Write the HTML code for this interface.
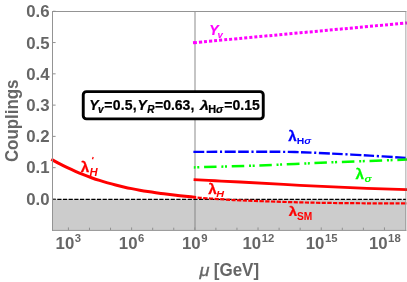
<!DOCTYPE html>
<html><head><meta charset="utf-8"><title>Couplings</title>
<style>
html,body{margin:0;padding:0;background:#fff;}
body{width:407px;height:282px;overflow:hidden;font-family:"Liberation Sans",sans-serif;}
svg{display:block;font-family:"Liberation Sans",sans-serif;}
</style></head><body>
<svg width="407" height="282" viewBox="0 0 407 282" style="will-change:transform;transform:translateZ(0)">
<rect x="0" y="0" width="407" height="282" fill="#ffffff"/>
<rect x="52.5" y="199.4" width="353.5" height="31.1" fill="#cccccc"/>
<line x1="195" y1="11.5" x2="195" y2="230.5" stroke="#808080" stroke-opacity="0.5" stroke-width="1.8"/>
<line x1="52.5" y1="199.4" x2="406" y2="199.4" stroke="#000" stroke-width="1.2" stroke-dasharray="4.2 1.47" stroke-dashoffset="0.9"/>
<g fill="none" stroke-linecap="butt" stroke-linejoin="round">
<path d="M51.30 159.24 C52.64 159.98 56.66 162.26 59.34 163.68 C62.02 165.09 64.70 166.43 67.38 167.72 C70.06 169.01 72.74 170.23 75.42 171.39 C78.10 172.56 80.78 173.67 83.46 174.72 C86.14 175.78 88.81 176.77 91.49 177.72 C94.17 178.67 96.85 179.57 99.53 180.42 C102.21 181.28 104.89 182.08 107.57 182.84 C110.25 183.60 112.93 184.32 115.61 185.00 C118.29 185.68 120.97 186.32 123.65 186.92 C126.33 187.53 129.01 188.10 131.69 188.63 C134.37 189.17 137.05 189.67 139.73 190.15 C142.41 190.63 145.09 191.08 147.77 191.50 C150.45 191.93 153.13 192.33 155.81 192.71 C158.49 193.09 161.16 193.45 163.84 193.79 C166.52 194.14 169.20 194.46 171.88 194.78 C174.56 195.09 177.24 195.39 179.92 195.68 C182.60 195.98 185.28 196.26 187.96 196.54 C190.64 196.82 194.66 197.23 196.00 197.37" stroke="#ff0000" stroke-width="3"/>
<path d="M193.60 179.70 C197.17 179.88 207.27 180.37 215.00 180.75 C222.73 181.13 225.83 181.24 240.00 182.00 C254.17 182.76 278.83 184.25 300.00 185.30 C321.17 186.35 349.17 187.57 367.00 188.30 C384.83 189.03 400.33 189.47 407.00 189.70" stroke="#ff0000" stroke-width="2.8"/>
<path d="M194.00 197.30 C195.00 197.38 197.33 197.60 200.00 197.80 C202.67 198.00 206.67 198.28 210.00 198.50 C213.33 198.72 216.67 198.93 220.00 199.15 C223.33 199.38 226.67 199.64 230.00 199.85 C233.33 200.06 235.83 200.22 240.00 200.40 C244.17 200.58 246.67 200.67 255.00 200.95 C263.33 201.23 279.17 201.79 290.00 202.10 C300.83 202.41 307.17 202.60 320.00 202.80 C332.83 203.00 352.50 203.20 367.00 203.30 C381.50 203.40 400.33 203.38 407.00 203.40" stroke="#ff0000" stroke-width="2.2" stroke-dasharray="4.25 1.4" stroke-dashoffset="1.99"/>
<path d="M193 42.75 L195 42.57" stroke="#ff00ff" stroke-width="3"/>
<path d="M194.18 42.64 C229.65 39.35 371.53 26.19 407.00 22.90" stroke="#ff00ff" stroke-width="3" stroke-dasharray="3 2.04"/>
<path d="M193.40 151.90 C202.83 151.87 233.07 151.67 250.00 151.70 C266.93 151.72 281.67 151.75 295.00 152.05 C308.33 152.35 317.50 152.90 330.00 153.50 C342.50 154.10 357.17 154.90 370.00 155.65 C382.83 156.40 400.83 157.61 407.00 158.00" stroke="#0000ff" stroke-width="2.4" stroke-dasharray="11 2.4 10.6 2.7 2.1 2.6" stroke-dashoffset="0.1"/>
<path d="M193.80 167.40 C203.17 167.13 233.13 166.37 250.00 165.80 C266.87 165.23 280.00 164.63 295.00 164.00 C310.00 163.37 321.33 162.73 340.00 162.00 C358.67 161.27 395.83 160.00 407.00 159.60" stroke="#00ff00" stroke-width="2.5" stroke-dasharray="2 1.6 2 4.7 12.5 4.8"/>
</g>
<g stroke="#949494" stroke-width="1" fill="none">
<path d="M405.8 11 L405.8 231" stroke="#666666" stroke-opacity="0.42" stroke-width="1.4"/>
<path d="M52 11.5 L406.3 11.5 M52 230.4 L406.3 230.4 M52.5 11 L52.5 231"/>
</g>
<g stroke="#909090" stroke-width="1" fill="none">
<line x1="68.40" y1="230" x2="68.40" y2="227.40"/><line x1="89.47" y1="230" x2="89.47" y2="227.70"/><line x1="110.54" y1="230" x2="110.54" y2="227.70"/><line x1="131.61" y1="230" x2="131.61" y2="227.40"/><line x1="152.68" y1="230" x2="152.68" y2="227.70"/><line x1="173.75" y1="230" x2="173.75" y2="227.70"/><line x1="194.82" y1="230" x2="194.82" y2="227.40"/><line x1="215.89" y1="230" x2="215.89" y2="227.70"/><line x1="236.96" y1="230" x2="236.96" y2="227.70"/><line x1="258.03" y1="230" x2="258.03" y2="227.40"/><line x1="279.10" y1="230" x2="279.10" y2="227.70"/><line x1="300.17" y1="230" x2="300.17" y2="227.70"/><line x1="321.24" y1="230" x2="321.24" y2="227.40"/><line x1="342.31" y1="230" x2="342.31" y2="227.70"/><line x1="363.38" y1="230" x2="363.38" y2="227.70"/><line x1="384.45" y1="230" x2="384.45" y2="227.40"/>
<line x1="53" y1="198.95" x2="55.6" y2="198.95"/><line x1="53" y1="167.67" x2="55.6" y2="167.67"/><line x1="53" y1="136.39" x2="55.6" y2="136.39"/><line x1="53" y1="105.11" x2="55.6" y2="105.11"/><line x1="53" y1="73.83" x2="55.6" y2="73.83"/><line x1="53" y1="42.55" x2="55.6" y2="42.55"/><line x1="53" y1="11.27" x2="55.6" y2="11.27"/>
</g>
<g font-weight="bold" font-size="16.8" fill="#666666">
<text x="49.5" y="205" text-anchor="end">0.0</text><text x="49.5" y="173" text-anchor="end">0.1</text><text x="49.5" y="142" text-anchor="end">0.2</text><text x="49.5" y="111" text-anchor="end">0.3</text><text x="49.5" y="80" text-anchor="end">0.4</text><text x="49.5" y="49" text-anchor="end">0.5</text><text x="49.5" y="17" text-anchor="end">0.6</text>
<text x="55.60" y="249" text-anchor="start"><tspan>10</tspan><tspan dx="0.5" dy="-7" font-size="11.3">3</tspan></text><text x="118.81" y="249" text-anchor="start"><tspan>10</tspan><tspan dx="0.5" dy="-7" font-size="11.3">6</tspan></text><text x="182.02" y="249" text-anchor="start"><tspan>10</tspan><tspan dx="0.5" dy="-7" font-size="11.3">9</tspan></text><text x="242.53" y="249" text-anchor="start"><tspan>10</tspan><tspan dx="0.5" dy="-7" font-size="11.3">12</tspan></text><text x="305.74" y="249" text-anchor="start"><tspan>10</tspan><tspan dx="0.5" dy="-7" font-size="11.3">15</tspan></text><text x="368.95" y="249" text-anchor="start"><tspan>10</tspan><tspan dx="0.5" dy="-7" font-size="11.3">18</tspan></text>
<text transform="translate(17.5,120.8) rotate(-90) scale(1,1.12)" text-anchor="middle" font-size="16.9">Couplings</text>
<text transform="translate(199.5,276) scale(1.08,1)" font-style="italic" font-weight="normal" font-size="16.8" stroke="#666666" stroke-width="0.35">μ</text><text transform="translate(259.1,276) scale(0.935,1)" text-anchor="end" font-size="18.2">[GeV]</text>
</g>
<!-- curve labels -->
<g font-weight="bold">

<text transform="translate(209.3,35) scale(0.9,1)" fill="#ff00ff" font-style="italic" font-size="15.5" stroke="#ff00ff" stroke-width="0.2">Y</text>
<text transform="translate(217.4,37.7) scale(1.0,1)" font-size="9.6" fill="#ff00ff" font-style="italic">v</text>
<text transform="translate(288.2,141) scale(1.08,1)" font-size="14" fill="#0000ff" stroke="#0000ff" stroke-width="0.25">λ</text>
<text transform="translate(296.7,144) scale(1.12,1)" font-size="9.3" fill="#0000ff">H<tspan font-style="italic">σ</tspan></text>
<text transform="translate(355.6,178.6) scale(1.08,1)" font-size="14" fill="#00ff00" stroke="#00ff00" stroke-width="0.25">λ</text>
<text transform="translate(364.5,181.6) scale(1.1,1)" font-size="9.8" fill="#00ff00" font-style="italic">σ</text>
<text transform="translate(208.2,194) scale(1.08,1)" font-size="14" fill="#ff0000" stroke="#ff0000" stroke-width="0.25">λ</text>
<text transform="translate(216.3,196.6) scale(1.1,1)" font-size="9.8" fill="#ff0000" font-style="italic">H</text>
<text transform="translate(80.8,171.7) scale(1.08,1)" font-size="14" fill="#ff0000" stroke="#ff0000" stroke-width="0.25">λ</text>
<text transform="translate(89.4,175.5) scale(1.08,1)" font-size="10.4" fill="#ff0000" font-style="italic">H</text>
<path d="M93.2 157.0 L92.5 159.2" stroke="#ff0000" stroke-width="1.3" fill="none"/>
<text transform="translate(288.7,216) scale(1.12,1)" font-size="13.4" fill="#ff0000" stroke="#ff0000" stroke-width="0.25">λ</text>
<text transform="translate(297.0,219.6) scale(0.96,1)" font-size="10.6" fill="#ff0000">SM</text>

</g>
<!-- legend box -->
<rect x="83.25" y="91.65" width="180.0" height="27.2" rx="3.2" ry="3.2" fill="#ffffff" stroke="#000000" stroke-width="2.9"/>
<g font-weight="bold" font-size="14" fill="#000" stroke="#000" stroke-width="0.22">
<text x="89.3" y="110"><tspan font-style="italic">Y</tspan><tspan dx="-0.6" dy="2.6" font-size="10" font-style="italic">v</tspan><tspan dx="0.6" dy="-2.6" letter-spacing="0.25">=0.5,</tspan></text>
<text x="137.6" y="110"><tspan font-style="italic">Y</tspan><tspan dx="0.3" dy="2.6" font-size="10" font-style="italic">R</tspan><tspan dx="0.5" dy="-2.6">=0.63,</tspan></text>
<text transform="translate(199.9,110) scale(1.24,1)" font-style="italic" font-size="12.9">λ</text>
<text transform="translate(208.2,112.6) scale(1.07,1)" font-size="10.2" stroke-width="0.2">H<tspan font-style="italic">σ</tspan></text>
<text x="224.3" y="110">=0.15</text>
</g>
</svg>
</body></html>
